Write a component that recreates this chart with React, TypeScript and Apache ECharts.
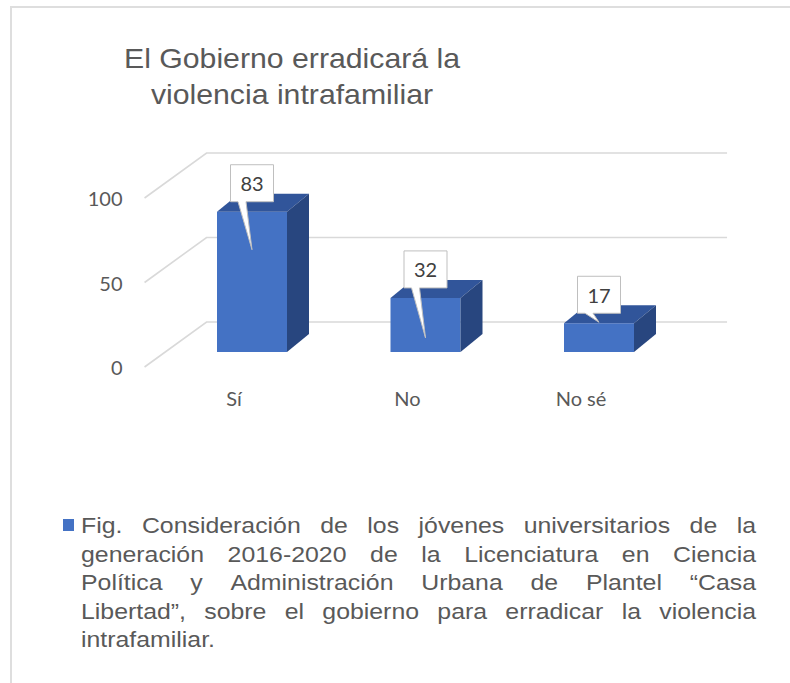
import React, { useEffect, useRef } from "react";
import * as echarts from "echarts";

// ---- data ----
const categories = ["Sí", "No", "No sé"];
const values = [83, 32, 17];
const yTicks = [0, 50, 100];
const titleLines = ["El Gobierno erradicará la", "violencia intrafamiliar"];
const legendLines = [
  "Fig. Consideración de los jóvenes universitarios de la",
  "generación 2016-2020 de la Licenciatura en Ciencia",
  "Política y Administración Urbana de Plantel “Casa",
  "Libertad”,  sobre el gobierno para erradicar la violencia",
  "intrafamiliar.",
];

// ---- layout / style ----
const W = 790;
const H = 683;
const GRID = { left: 165.25, right: 104.25, top: 183, bottom: 331 };
const BAR_RATIO = 70 / 173.5;
const BAR_DEPTH: [number, number] = [22, -18];
const WALL_BACK: [number, number] = [41.3, -30];
const FLOOR_FRONT: [number, number] = [-20.7, 15];
const CALLOUT_TIP = [38, 40, -1];
const FRONT = "#4472C4";
const TOP = "#31559A";
const SIDE = "#28467F";
const GRID_COLOR = "#d9d9d9";
const TEXT = "#595959";
const LABEL_FONT = "Lato, 'Open Sans', sans-serif";
const ARIAL = "'Liberation Sans', Arial, sans-serif";
const TITLE_STRETCH = 1.08;
const LEGEND_STRETCH = 1.13;

function measure(word: string, font: string): number {
  const c = document.createElement("canvas").getContext("2d")!;
  c.font = font;
  return c.measureText(word).width;
}

export default function App() {
  const ref = useRef<HTMLDivElement>(null);

  useEffect(() => {
    const chart = echarts.init(ref.current!, undefined, { renderer: "svg" });

    // legend text, justified word by word
    const legendFontSize = 22;
    const legendFont = `${legendFontSize}px ${ARIAL}`;
    const lx0 = 81;
    const lx1 = 756;
    const ly0 = 526;
    const lstep = 28.5;
    const legendTexts: any[] = [];
    legendLines.forEach((line, li) => {
      const words = line.split(" ").filter((w) => w.length > 0);
      const widths = words.map((w) => measure(w, legendFont) * LEGEND_STRETCH);
      const last = li === legendLines.length - 1;
      const total = widths.reduce((a, b) => a + b, 0);
      const gap = last
        ? measure(" ", legendFont) * LEGEND_STRETCH
        : (lx1 - lx0 - total) / Math.max(1, words.length - 1);
      let x = lx0;
      words.forEach((w, wi) => {
        legendTexts.push({
          type: "text",
          x,
          y: ly0 + li * lstep,
          scaleX: LEGEND_STRETCH,
          style: {
            text: w,
            font: legendFont,
            fill: TEXT,
            align: "left",
            verticalAlign: "middle",
            textAlign: "left",
            textVerticalAlign: "middle",
          },
        });
        x += widths[wi] + gap;
      });
    });

    const option: any = {
      animation: false,
      backgroundColor: "#ffffff",
      grid: GRID,
      xAxis: { type: "category", data: categories, show: false },
      yAxis: { type: "value", min: 0, max: 100, interval: 50, show: false },
      graphic: [
        {
          type: "line",
          shape: { x1: 10, y1: 7, x2: W, y2: 7 },
          style: { stroke: "#dedede", lineWidth: 2 },
        },
        {
          type: "line",
          shape: { x1: 11, y1: 6, x2: 11, y2: H },
          style: { stroke: "#dedede", lineWidth: 2 },
        },
        ...titleLines.map((t, i) => ({
          type: "text",
          x: 292,
          y: 58 + i * 36,
          scaleX: TITLE_STRETCH,
          style: {
            text: t,
            font: `28px ${ARIAL}`,
            fill: TEXT,
            align: "center",
            verticalAlign: "middle",
            textAlign: "center",
            textVerticalAlign: "middle",
          },
        })),
        {
          type: "rect",
          shape: { x: 63, y: 519, width: 11, height: 12 },
          style: { fill: FRONT },
        },
        ...legendTexts,
      ],
      series: [
        {
          type: "custom",
          name: "walls",
          z: 1,
          clip: false,
          data: yTicks.map((t) => [0, t]),
          renderItem: (params: any, api: any) => {
            const t = api.value(1);
            const cs = params.coordSys;
            const y = api.coord([0, t])[1];
            const L = cs.x;
            const R = cs.x + cs.width;
            return {
              type: "group",
              children: [
                {
                  type: "polyline",
                  shape: {
                    points: [
                      [L + FLOOR_FRONT[0], y + FLOOR_FRONT[1]],
                      [L + WALL_BACK[0], y + WALL_BACK[1]],
                      [R + WALL_BACK[0], y + WALL_BACK[1]],
                    ],
                  },
                  style: { stroke: GRID_COLOR, lineWidth: 1.6, fill: null },
                },
                {
                  type: "text",
                  style: {
                    text: String(t),
                    x: L + FLOOR_FRONT[0] - 22,
                    y: y + FLOOR_FRONT[1],
                    font: `20px ${LABEL_FONT}`,
                    fill: TEXT,
                    align: "right",
                    verticalAlign: "middle",
                    textAlign: "right",
                    textVerticalAlign: "middle",
                  },
                },
              ],
            };
          },
        },
        {
          type: "custom",
          name: "bars",
          z: 2,
          clip: false,
          data: values.map((v, i) => [i, v]),
          renderItem: (params: any, api: any) => {
            const i = api.value(0);
            const v = api.value(1);
            const base = api.coord([i, 0]);
            const top = api.coord([i, v]);
            const bw = api.size([1, 0])[0] * BAR_RATIO;
            const x0 = base[0] - bw / 2;
            const x1 = base[0] + bw / 2;
            const yb = base[1];
            const yt = top[1];
            const [dx, dy] = BAR_DEPTH;
            return {
              type: "group",
              children: [
                {
                  type: "polygon",
                  shape: { points: [[x0, yt], [x1, yt], [x1, yb], [x0, yb]] },
                  style: { fill: FRONT },
                },
                {
                  type: "polygon",
                  shape: {
                    points: [[x0, yt], [x0 + dx, yt + dy], [x1 + dx, yt + dy], [x1, yt]],
                  },
                  style: { fill: TOP },
                },
                {
                  type: "polygon",
                  shape: {
                    points: [[x1, yt], [x1 + dx, yt + dy], [x1 + dx, yb + dy], [x1, yb]],
                  },
                  style: { fill: SIDE },
                },
                {
                  type: "text",
                  style: {
                    text: categories[params.dataIndex],
                    x: base[0] - 18,
                    y: yb + 46,
                    font: `20px ${LABEL_FONT}`,
                    fill: TEXT,
                    align: "center",
                    verticalAlign: "middle",
                    textAlign: "center",
                    textVerticalAlign: "middle",
                  },
                },
              ],
            };
          },
        },
        {
          type: "custom",
          name: "labels",
          z: 3,
          clip: false,
          data: values.map((v, i) => [i, v]),
          renderItem: (params: any, api: any) => {
            const i = api.value(0);
            const v = api.value(1);
            const top = api.coord([i, v]);
            const cx = top[0];
            const yt = top[1];
            const bx0 = cx - 21.5;
            const bx1 = cx + 21.5;
            const by0 = yt - 47;
            const by1 = by0 + 37;
            const tip = [cx, yt + CALLOUT_TIP[params.dataIndex]];
            return {
              type: "group",
              children: [
                {
                  type: "polygon",
                  shape: {
                    points: [
                      [bx0, by0],
                      [bx1, by0],
                      [bx1, by1],
                      [cx - 6, by1],
                      tip,
                      [cx - 14, by1],
                      [bx0, by1],
                    ],
                  },
                  style: { fill: "#ffffff", stroke: "#bfbfbf", lineWidth: 1 },
                },
                {
                  type: "text",
                  style: {
                    text: String(v),
                    x: cx,
                    y: (by0 + by1) / 2,
                    font: `20px ${LABEL_FONT}`,
                    fill: "#404040",
                    align: "center",
                    verticalAlign: "middle",
                    textAlign: "center",
                    textVerticalAlign: "middle",
                  },
                },
              ],
            };
          },
        },
      ],
    };

    chart.setOption(option);
    return () => chart.dispose();
  }, []);

  return (
    <div
      ref={ref}
      style={{ position: "fixed", left: 0, top: 0, width: W, height: H, background: "#fff" }}
    />
  );
}
